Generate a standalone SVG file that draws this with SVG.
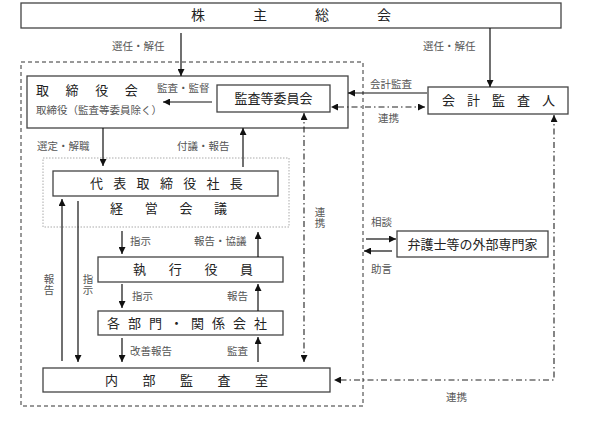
<svg xmlns="http://www.w3.org/2000/svg" width="589" height="427" viewBox="0 0 589 427">
<defs>
<marker id="ah" viewBox="0 0 8 8" refX="8" refY="4" markerWidth="7" markerHeight="7" markerUnits="userSpaceOnUse" orient="auto-start-reverse">
<path d="M0,0 L8,4 L0,8 z" fill="#111"/>
</marker>
<style>
.box{fill:#fff;stroke:#444;stroke-width:1.3}
.bt{font-family:"Noto Sans CJK JP","Noto Sans",sans-serif;font-size:13px;fill:#222}
.lb{font-family:"Noto Sans CJK JP","Noto Sans",sans-serif;font-size:10.5px;fill:#555}
.vt{writing-mode:vertical-rl;text-orientation:upright}
.ln{stroke:#111;stroke-width:1.2;fill:none}
.dd{stroke:#222;stroke-width:1.1;fill:none;stroke-dasharray:6 3 1.5 3}
.outer{stroke:#333;stroke-width:1;fill:none;stroke-dasharray:4 3}
.dot{stroke:#aaa;stroke-width:1;fill:none;stroke-dasharray:1.5 1.5}
</style>
</defs>
<rect width="589" height="427" fill="#fff"/>
<rect class="outer" x="21" y="62" width="342" height="344"/>
<rect class="dot" x="43" y="158" width="246" height="69"/>

<g id="kabunushi">
<rect class="box" x="21" y="3" width="540" height="25"/>
<text class="bt" x="191" y="20" style="font-size:14px;letter-spacing:48px">株主総会</text>
</g>
<g id="torishimariyakukai">
<rect class="box" x="27" y="76" width="321" height="52"/>
<text class="bt" x="36" y="95" style="letter-spacing:16.6px">取締役会</text>
<text class="lb" x="36" y="114">取締役（監査等委員除く）</text>
</g>
<g id="kansatou">
<rect class="box" x="217" y="85" width="113" height="27"/>
<text class="bt" x="273.5" y="103" text-anchor="middle">監査等委員会</text>
</g>
<g id="kaikei">
<rect class="box" x="428" y="87" width="140" height="27"/>
<text class="bt" x="442" y="105" style="letter-spacing:12px">会計監査人</text>
</g>
<g id="daihyo">
<rect class="box" x="53" y="171" width="225" height="25"/>
<text class="bt" x="90" y="188" style="letter-spacing:10.3px">代表取締役社長</text>
<text class="bt" x="110" y="213" style="letter-spacing:21.7px">経営会議</text>
</g>
<g id="shikkou">
<rect class="box" x="98" y="257" width="185" height="25"/>
<text class="bt" x="133" y="274" style="letter-spacing:22.7px">執行役員</text>
</g>
<g id="kakubumon">
<rect class="box" x="98" y="311" width="185" height="24"/>
<text class="bt" x="107" y="328" style="letter-spacing:8px">各部門・関係会社</text>
</g>
<g id="naibu">
<rect class="box" x="43" y="368" width="287" height="24"/>
<text class="bt" x="105" y="385" style="letter-spacing:24.5px">内部監査室</text>
</g>
<g id="bengoshi">
<rect class="box" x="397" y="231" width="151" height="26"/>
<text class="bt" x="472.5" y="249" text-anchor="middle">弁護士等の外部専門家</text>
</g>

<g id="connectors">
<line class="ln" x1="181" y1="33" x2="181" y2="76" marker-end="url(#ah)"/>
<line class="ln" x1="490" y1="28" x2="490" y2="87" marker-end="url(#ah)"/>
<line class="ln" x1="427" y1="93" x2="348" y2="93" marker-end="url(#ah)"/>
<line class="dd" x1="425" y1="107" x2="331" y2="107" marker-start="url(#ah)" marker-end="url(#ah)"/>
<line class="ln" x1="212" y1="102" x2="163" y2="102" marker-end="url(#ah)"/>
<line class="ln" x1="103" y1="128" x2="103" y2="166" marker-end="url(#ah)"/>
<line class="ln" x1="243" y1="167" x2="243" y2="128" marker-end="url(#ah)"/>
<line class="dd" x1="304" y1="113" x2="304" y2="362" marker-start="url(#ah)" marker-end="url(#ah)"/>
<line class="ln" x1="62" y1="361" x2="62" y2="199" marker-end="url(#ah)"/>
<line class="ln" x1="78" y1="201" x2="78" y2="362" marker-end="url(#ah)"/>
<line class="ln" x1="122" y1="231" x2="122" y2="254" marker-end="url(#ah)"/>
<line class="ln" x1="258" y1="257" x2="258" y2="232" marker-end="url(#ah)"/>
<line class="ln" x1="122" y1="284" x2="122" y2="308" marker-end="url(#ah)"/>
<line class="ln" x1="258" y1="311" x2="258" y2="284" marker-end="url(#ah)"/>
<line class="ln" x1="122" y1="338" x2="122" y2="362" marker-end="url(#ah)"/>
<line class="ln" x1="258" y1="362" x2="258" y2="337" marker-end="url(#ah)"/>
<line class="ln" x1="366" y1="239" x2="396" y2="239" marker-end="url(#ah)"/>
<line class="ln" x1="392" y1="251" x2="364" y2="251" marker-end="url(#ah)"/>
<polyline class="dd" points="554,115 554,380 334,380" marker-start="url(#ah)" marker-end="url(#ah)"/>
</g>

<g id="labels">
<text class="lb" x="112" y="50">選任・解任</text>
<text class="lb" x="423" y="50">選任・解任</text>
<text class="lb" x="157" y="92">監査・監督</text>
<text class="lb" x="370" y="88">会計監査</text>
<text class="lb" x="378" y="122">連携</text>
<text class="lb" x="37" y="150">選定・解職</text>
<text class="lb" x="177" y="150">付議・報告</text>
<text class="lb vt" x="320" y="207">連携</text>
<text class="lb vt" x="49" y="274">報告</text>
<text class="lb vt" x="88" y="274">指示</text>
<text class="lb" x="130" y="245">指示</text>
<text class="lb" x="194" y="245">報告・協議</text>
<text class="lb" x="132" y="300">指示</text>
<text class="lb" x="227" y="300">報告</text>
<text class="lb" x="130" y="355">改善報告</text>
<text class="lb" x="227" y="355">監査</text>
<text class="lb" x="371" y="226">相談</text>
<text class="lb" x="371" y="273">助言</text>
<text class="lb" x="446" y="401">連携</text>
</g>
</svg>
